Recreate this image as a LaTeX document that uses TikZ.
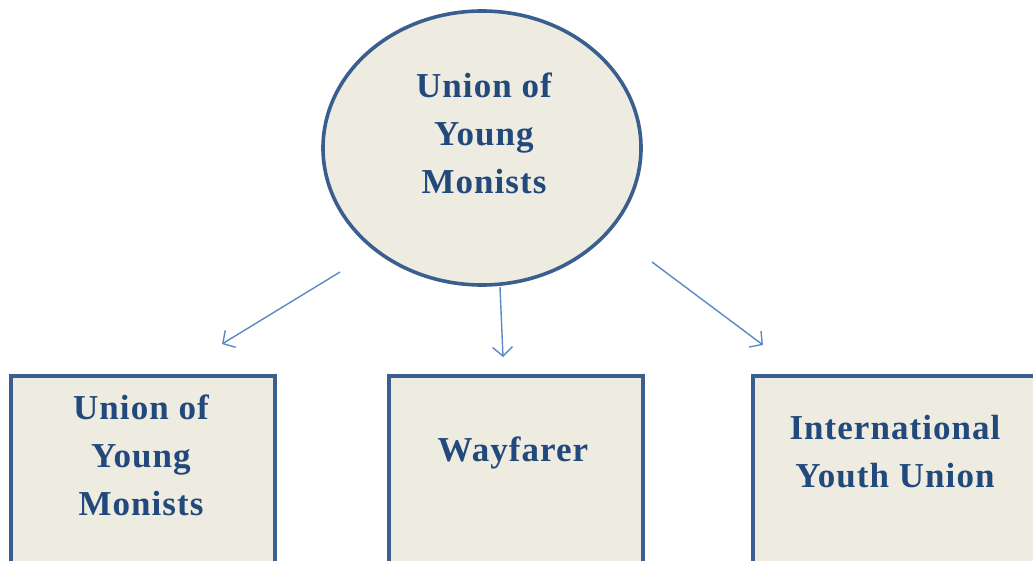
\documentclass[tikz,border=0pt]{standalone}
\usepackage{fontspec}
\setmainfont{Liberation Serif}[LetterSpace=3]
\usetikzlibrary{shapes.geometric,arrows.meta}
\definecolor{fillc}{HTML}{EEEBE1}
\definecolor{borderc}{HTML}{3A5F8E}
\definecolor{textc}{HTML}{21497C}
\definecolor{arrowc}{HTML}{5A8AC6}
\tikzset{
  shapebox/.style={draw=borderc, fill=fillc, line width=3.6pt},
  lbl/.style={text=textc, font=\bfseries\fontsize{35}{48}\selectfont, align=center, inner sep=0pt},
  conn/.style={draw=arrowc, line width=1.4pt, -{Straight Barb[length=9pt,width=20pt,line width=1.4pt]}}
}
\begin{document}
\begin{tikzpicture}[x=1pt,y=-1pt]
\useasboundingbox (0,0) rectangle (1033,561);
\clip (0,0) rectangle (1033,561);
% top ellipse
\node[shapebox, ellipse, minimum width=318pt, minimum height=274pt] (e) at (482,148) {};
\node[lbl, anchor=base] (et) at (484,194) {Union of\\Young\\Monists};
% boxes
\node[shapebox, rectangle, anchor=north west, minimum width=264pt, minimum height=240pt] (b1) at (9,374) {};
\node[shapebox, rectangle, anchor=north west, minimum width=254pt, minimum height=240pt] (b2) at (387,374) {};
\node[shapebox, rectangle, anchor=north west, minimum width=290pt, minimum height=240pt] (b3) at (751,374) {};
\node[lbl, anchor=base] (t1) at (141,515) {Union of\\Young\\Monists};
\node[lbl, anchor=base] (t2) at (513,461) {Wayfarer};
\node[lbl, anchor=base] (t3) at (895,487) {International\\Youth Union};
% connectors
\coordinate (s1) at (340,272);
\coordinate (e1) at (222,344);
\coordinate (s2) at (500,287);
\coordinate (e2) at (503,357);
\coordinate (s3) at (652,262);
\coordinate (e3) at (763,345);
\draw[conn] (s1) -- (e1);
\draw[conn] (s2) -- (e2);
\draw[conn] (s3) -- (e3);
\end{tikzpicture}
\end{document}
